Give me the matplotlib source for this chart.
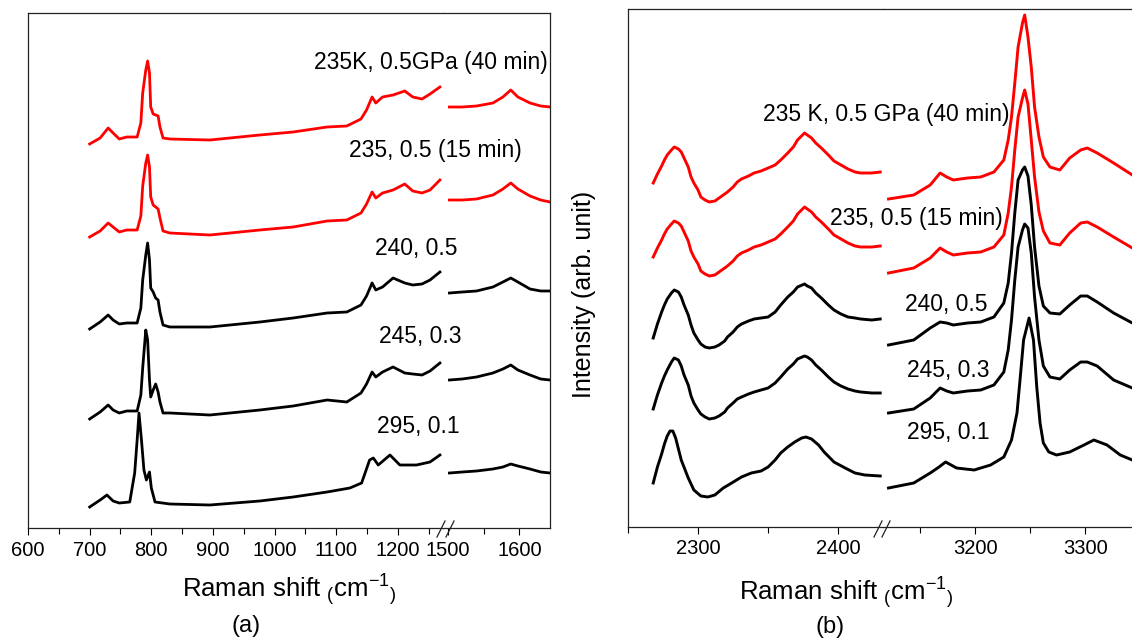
import matplotlib.pyplot as plt

plt.rcParams['font.family'] = ['Liberation Sans', 'DejaVu Sans']

# ---- panel (a): 700-1270 cm-1 part (intensity in arb. units, already stacked)
a_lo_x = [700, 717, 730, 738, 748, 760, 777, 783, 786, 791, 794, 797, 799, 803, 807, 811, 814, 819,
          830, 895, 976, 1030, 1085, 1117, 1140, 1149, 1158, 1164, 1175, 1192, 1211, 1224, 1239, 1252, 1268]
a_lo_40min = [384, 390, 400, 395, 389, 391, 391, 405, 435, 458, 467, 455, 421, 414, 413, 412, 401, 390,
              389, 388, 393, 396, 401, 402, 409, 418, 431, 425, 431, 433, 437, 431, 429, 434, 441]
a_lo_15min = [291, 297, 305, 301, 296, 298, 298, 312, 342, 365, 373, 361, 331, 323, 321, 319, 310, 297,
              295, 293, 298, 301, 307, 308, 315, 324, 336, 330, 335, 338, 344, 337, 335, 338, 348]
a_lo_240 = [199, 206, 213, 208, 204, 205, 205, 220, 248, 273, 285, 268, 240, 236, 230, 228, 216, 203,
            201, 201, 206, 210, 215, 216, 223, 232, 245, 238, 241, 250, 245, 243, 244, 248, 256]
a_lo_245 = [109, 116, 123, 118, 115, 117, 117, 133, 160, 198, 188, 148, 131, 138, 144, 136, 126, 115,
            115, 113, 118, 122, 128, 126, 135, 144, 156, 151, 156, 161, 155, 154, 153, 157, 165]
a_lo_x_295 = [700, 717, 728, 738, 748, 765, 773, 777, 780, 784, 788, 792, 797, 800, 806,
              830, 895, 976, 1030, 1085, 1122, 1141, 1154, 1160, 1168, 1187, 1203, 1230, 1252, 1268]
a_lo_295 = [21, 28, 33, 27, 25, 26, 55, 88, 115, 88, 58, 48, 56, 40, 26,
            24, 23, 27, 31, 36, 40, 45, 68, 70, 63, 73, 63, 63, 66, 73]

# ---- panel (a): 1500-1650 cm-1 part
a_hi_x = [1502, 1520, 1540, 1563, 1577, 1588, 1598, 1615, 1630, 1643]
a_hi_40min = [421, 421, 422, 425, 431, 438, 431, 425, 422, 421]
a_hi_15min = [328, 328, 329, 333, 339, 345, 339, 332, 328, 326]
a_hi_240 = [235, 236, 237, 241, 246, 250, 246, 239, 237, 237]
a_hi_245 = [148, 149, 151, 155, 159, 163, 158, 153, 149, 148]
a_hi_295 = [55, 56, 57, 59, 61, 64, 62, 59, 56, 55]

# ---- panel (b): 2260-2430 cm-1 part
b_lo_x = [2268, 2271, 2274, 2276, 2278, 2281, 2283, 2286, 2288, 2290,
          2293, 2295, 2297, 2300, 2302, 2305, 2308, 2312, 2315, 2319,
          2321, 2325, 2328, 2331, 2336, 2340, 2345, 2350, 2355, 2359,
          2364, 2368, 2371, 2376, 2378, 2381, 2384, 2388, 2393, 2397,
          2402, 2407, 2412, 2416, 2424, 2430]
b_lo_40min = [344, 353, 361, 367, 372, 377, 380, 378, 375, 369,
              360, 350, 344, 337, 330, 327, 325, 326, 329, 333,
              335, 340, 345, 348, 351, 354, 356, 359, 362, 367,
              374, 380, 387, 394, 392, 389, 384, 379, 372, 366,
              362, 358, 355, 354, 354, 355]
b_lo_15min = [270, 279, 287, 293, 298, 303, 306, 304, 301, 295,
              286, 276, 270, 263, 256, 253, 251, 252, 255, 259,
              261, 266, 271, 274, 277, 280, 282, 285, 288, 293,
              300, 306, 313, 320, 318, 315, 310, 305, 298, 292,
              288, 284, 281, 280, 280, 281]
b_lo_240 = [189, 203, 215, 222, 228, 234, 237, 235, 230, 222,
            212, 202, 194, 187, 183, 180, 179, 180, 182, 186,
            190, 195, 200, 203, 206, 208, 209, 210, 215, 222,
            230, 235, 240, 243, 241, 239, 234, 229, 222, 217,
            213, 210, 209, 208, 207, 208]
b_lo_245 = [118, 132, 144, 151, 157, 165, 169, 167, 161, 152,
            142, 131, 124, 117, 113, 110, 108, 109, 111, 115,
            119, 124, 128, 130, 133, 135, 137, 139, 144, 150,
            158, 163, 168, 171, 170, 167, 162, 157, 150, 145,
            141, 138, 136, 135, 134, 134]
b_lo_x_295 = [2268, 2271, 2274, 2276, 2278, 2280, 2282, 2284, 2288, 2293, 2297, 2302,
              2307, 2312, 2318, 2324, 2331, 2338, 2345, 2350, 2355, 2359, 2364, 2369,
              2374, 2377, 2381, 2386, 2390, 2397, 2405, 2412, 2419, 2430]
b_lo_295 = [44, 60, 73, 83, 91, 96, 96, 89, 67, 49, 37, 31,
            30, 32, 39, 44, 50, 54, 56, 60, 67, 74, 80, 85,
            89, 90, 88, 82, 75, 65, 59, 54, 52, 51]

# ---- panel (b): 3120-3340 cm-1 part
b_hi_x = [3121, 3144, 3159, 3168, 3174, 3180, 3193, 3205, 3217, 3226, 3230, 3233, 3236, 3239, 3243,
          3245, 3248, 3251, 3254, 3258, 3262, 3268, 3277, 3286, 3296, 3302, 3311, 3326, 3343]
b_hi_40min = [328, 332, 342, 354, 350, 347, 349, 350, 355, 367, 387, 410, 444, 480, 504,
              512, 490, 460, 420, 390, 370, 360, 357, 369, 377, 379, 374, 364, 352]
b_hi_15min = [254, 259, 269, 279, 275, 272, 274, 275, 280, 292, 314, 340, 377, 410, 429,
              437, 423, 387, 350, 315, 296, 284, 282, 294, 304, 305, 300, 290, 279]
b_hi_240 = [182, 187, 199, 205, 204, 202, 204, 205, 210, 224, 244, 274, 314, 347, 357,
            360, 351, 322, 280, 241, 221, 214, 213, 222, 231, 231, 225, 214, 204]
b_hi_245 = [114, 118, 129, 139, 136, 134, 136, 137, 142, 155, 177, 207, 247, 280, 297,
            303, 299, 274, 230, 187, 161, 150, 148, 157, 165, 165, 161, 147, 139]
b_hi_x_295 = [3121, 3144, 3159, 3167, 3173, 3183, 3199, 3214, 3226, 3233, 3238, 3241, 3244,
              3249, 3253, 3256, 3259, 3262, 3267, 3274, 3286, 3299, 3308, 3320, 3332, 3343]
b_hi_295 = [39, 44, 54, 60, 65, 59, 57, 62, 70, 87, 114, 150, 187,
            209, 187, 140, 104, 84, 75, 72, 75, 82, 87, 82, 72, 67]

colors = ['red', 'red', 'black', 'black', 'black']
labels_a = ['235K, 0.5GPa (40 min)', '235, 0.5 (15 min)', '240, 0.5', '245, 0.3', '295, 0.1']
labels_b = ['235 K, 0.5 GPa (40 min)', '235, 0.5 (15 min)', '240, 0.5', '245, 0.3', '295, 0.1']

W, H = 1132, 640
fig = plt.figure(figsize=(W / 100, H / 100), dpi=100)


def px_axes(x0, x1, y0, y1):
    # axes from pixel box (top-left origin)
    return fig.add_axes([x0 / W, 1 - y1 / H, (x1 - x0) / W, (y1 - y0) / H])


def style(ax, side, xlim, ylim, major, minor):
    ax.set_xlim(*xlim)
    ax.set_ylim(*ylim)
    ax.set_xticks(major)
    ax.set_xticks(minor, minor=True)
    ax.set_yticks([])
    ax.tick_params(axis='x', which='both', direction='out', labelsize=14.5, pad=4)
    ax.tick_params(axis='x', which='major', length=5, width=0.8)
    ax.tick_params(axis='x', which='minor', length=4, width=0.8)
    for s in ax.spines.values():
        s.set_linewidth(0.9)
        s.set_color('#222222')
    if side == 'left':
        ax.spines['right'].set_visible(False)
    else:
        ax.spines['left'].set_visible(False)


# panel (a)
axa1 = px_axes(28, 443, 13, 528)
axa2 = px_axes(443, 550, 13, 528)
style(axa1, 'left', (600, 1273), (0, 515), [600, 700, 800, 900, 1000, 1100, 1200],
      [650, 750, 850, 950, 1050, 1150, 1250])
style(axa2, 'right', (1493, 1643), (0, 515), [1500, 1600], [1550])

a_lo = [a_lo_40min, a_lo_15min, a_lo_240, a_lo_245]
a_hi = [a_hi_40min, a_hi_15min, a_hi_240, a_hi_245, a_hi_295]
for i in range(4):
    axa1.plot(a_lo_x, a_lo[i], color=colors[i], lw=2)
axa1.plot(a_lo_x_295, a_lo_295, color=colors[4], lw=2)
for i in range(5):
    axa2.plot(a_hi_x, a_hi[i], color=colors[i], lw=2)

# panel (b)
axb1 = px_axes(628, 883, 9, 527)
axb2 = px_axes(883, 1140, 9, 527)
style(axb1, 'left', (2250, 2432), (0, 518), [2300, 2400], [2250, 2350])
style(axb2, 'right', (3116, 3350), (0, 518), [3200, 3300], [3150, 3250])
axb2.spines['right'].set_visible(False)

b_lo = [b_lo_40min, b_lo_15min, b_lo_240, b_lo_245]
b_hi = [b_hi_40min, b_hi_15min, b_hi_240, b_hi_245]
for i in range(4):
    axb1.plot(b_lo_x, b_lo[i], color=colors[i], lw=2.1)
    axb2.plot(b_hi_x, b_hi[i], color=colors[i], lw=2.1)
axb1.plot(b_lo_x_295, b_lo_295, color=colors[4], lw=2.1)
axb2.plot(b_hi_x_295, b_hi_295, color=colors[4], lw=2.1)


def ftext(x, y, s, **kw):
    fig.text(x / W, 1 - y / H, s, **kw)


# break marks on the bottom axes
for bx in (437, 446, 874, 882):
    fig.add_artist(plt.Line2D([bx / W, (bx + 8) / W], [1 - 537 / H, 1 - 521 / H],
                              color='#222222', lw=0.9))

# curve labels
pos_a = [(548, 62, 'right'), (435, 150, 'center'), (416, 248, 'center'),
         (420, 336, 'center'), (418, 427, 'center')]
for (x, y, ha), s in zip(pos_a, labels_a):
    ftext(x, y, s, ha=ha, va='center', fontsize=16.5)
pos_b = [(886, 115), (916, 219), (946, 304), (948, 370), (948, 433)]
for (x, y), s in zip(pos_b, labels_b):
    ftext(x, y, s, ha='center', va='center', fontsize=16.5)

xlab = r'Raman shift $\mathregular{{}_{(}cm^{-1}{}_{)}}$'
ftext(289, 597, xlab, ha='center', va='baseline', fontsize=18.5)
ftext(846, 600, xlab, ha='center', va='baseline', fontsize=18.5)
ftext(584, 294, 'Intensity (arb. unit)', ha='center', va='center', rotation=90, fontsize=18)
ftext(246, 626, '(a)', ha='center', va='center', fontsize=17)
ftext(830, 627, '(b)', ha='center', va='center', fontsize=17)

fig.savefig('out.png', dpi=100)
